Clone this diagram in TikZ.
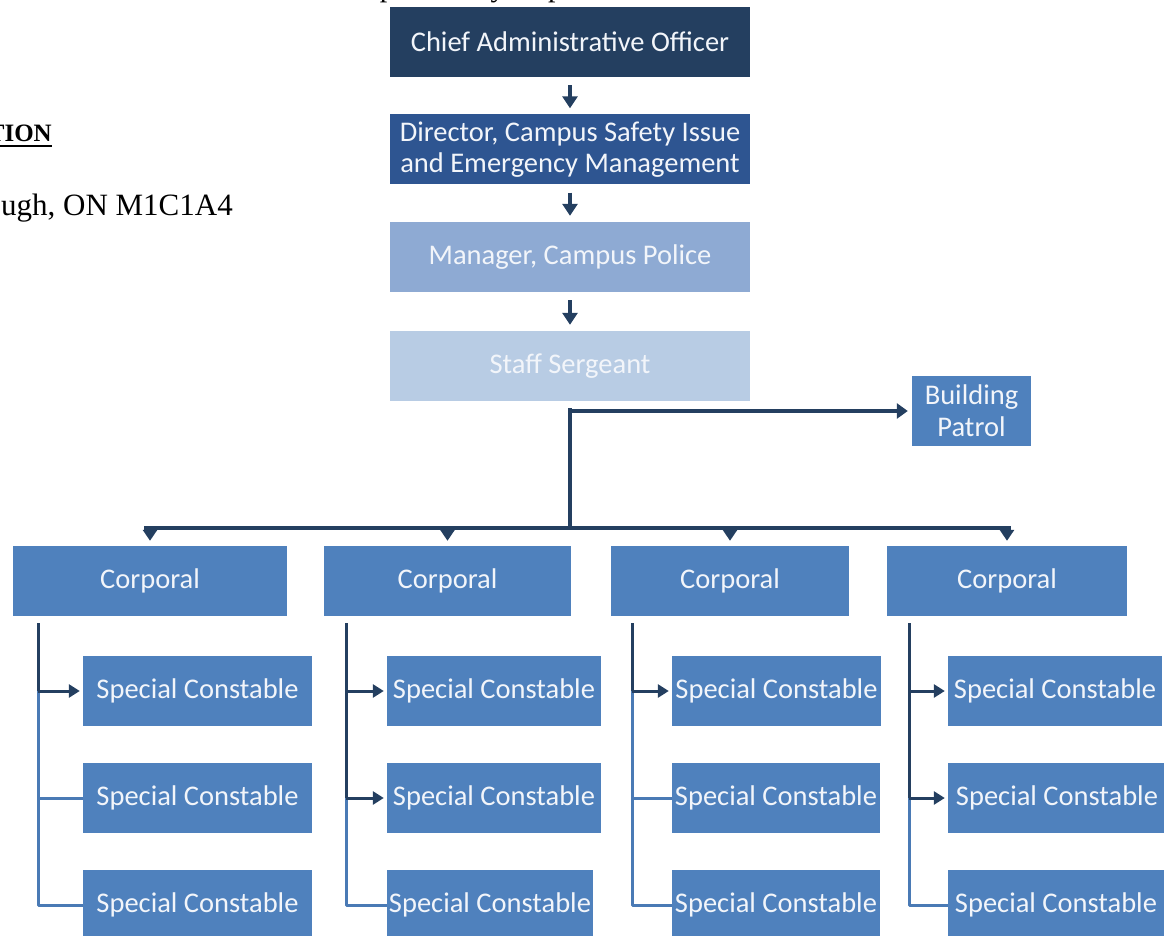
\documentclass[tikz,border=0pt]{standalone}
\usepackage{fontspec}
\setmainfont{Liberation Serif}
\newfontfamily\orgfont{Carlito}
\usetikzlibrary{arrows.meta}

\definecolor{navy}{HTML}{243F60}
\definecolor{director}{HTML}{2E5591}
\definecolor{manager}{HTML}{8EAAD3}
\definecolor{sergeant}{HTML}{B8CCE4}
\definecolor{unit}{HTML}{4F81BD}
\definecolor{paleline}{HTML}{4A7AB5}
\definecolor{boxtext}{HTML}{F2F5FA}

\begin{document}
\begin{tikzpicture}[
            x=1pt, y=-1pt,
            box/.style={rectangle, inner sep=0pt, align=center, text=boxtext,
                font=\orgfont\fontsize{28.5}{31}\selectfont},
            top box/.style={box, minimum width=360pt, minimum height=70pt},
            unit box/.style={box, fill=unit, minimum height=70pt},
            chain arrow/.style={line width=3.5pt, draw=navy,
                -{Triangle[length=12pt, width=15pt]}, shorten <=8pt, shorten >=6pt},
            trunk/.style={line width=4pt, draw=navy},
            drop/.style={line width=3pt, draw=navy,
                -{Triangle[length=11pt, width=14pt]}, shorten >=5pt},
            spine/.style={line width=3pt, draw=navy},
            branch/.style={line width=3pt, draw=navy,
                -{Triangle[length=11pt, width=13pt]}, shorten >=3pt},
            pale branch/.style={line width=3pt, draw=paleline, line join=round}
            ]

            \useasboundingbox (0,0) rectangle (1164,936);
            \clip (0,0) rectangle (1164,936);

            % page text cut by the frame
            \node[anchor=base west, inner sep=0pt, font=\fontsize{30}{34}\selectfont]
                (title) at (323,-3.5) {Campus Safety Department};
            \node[anchor=base east, inner sep=0pt, font=\bfseries\fontsize{25}{30}\selectfont]
                (heading) at (52,142) {TION};
            \draw[line width=2.5pt] ([yshift=-4pt]heading.base west) -- ([yshift=-4pt]heading.base east);
            \node[anchor=base east, inner sep=0pt, font=\fontsize{31}{35}\selectfont]
                (address) at (233,215) {ugh, ON M1C1A4};

            % chain of command
            \node[top box, fill=navy] (cao) at (570,42) {Chief Administrative Officer};
            \node[top box, fill=director] (director) at (570,149.5) {Director, Campus Safety Issue\\and Emergency Management};
            \node[top box, fill=manager] (manager) at (570,257) {Manager, Campus Police};
            \node[top box, fill=sergeant] (sergeant) at (570,366) {Staff Sergeant};
            \node[unit box, minimum width=119pt, font=\orgfont\fontsize{28.5}{32}\selectfont]
                (patrol) at (971.5,411) {Building\\Patrol};

            \draw[chain arrow] (cao) -- (director);
            \draw[chain arrow] (director) -- (manager);
            \draw[chain arrow] (manager) -- (sergeant);

            % corporals
            \node[unit box, minimum width=274pt] (corp1) at (150,581) {Corporal};
            \node[unit box, minimum width=247pt] (corp2) at (447.5,581) {Corporal};
            \node[unit box, minimum width=238pt] (corp3) at (730,581) {Corporal};
            \node[unit box, minimum width=240pt] (corp4) at (1007,581) {Corporal};

            \coordinate (split) at (570,411);
            \coordinate (bus) at (570,528);
            \coordinate (bus west) at (144,528);
            \coordinate (bus east) at (1011,528);

            \draw[trunk] ([yshift=-7pt]sergeant.south) -- (bus);
            \draw[trunk, -{Triangle[length=11pt, width=15pt]}, shorten >=4pt] (split) -- (patrol.west);
            \draw[trunk] (bus west) -- (bus east);
            \draw[drop] (corp1.north |- bus) -- (corp1.north);
            \draw[drop] (corp2.north |- bus) -- (corp2.north);
            \draw[drop] (corp3.north |- bus) -- (corp3.north);
            \draw[drop] (corp4.north |- bus) -- (corp4.north);

            % special constables
            \node[unit box, minimum width=229pt] (con11) at (197.5,691) {Special Constable};
            \node[unit box, minimum width=229pt] (con12) at (197.5,798) {Special Constable};
            \node[unit box, minimum width=229pt] (con13) at (197.5,905) {Special Constable};

            \node[unit box, minimum width=214pt] (con21) at (494,691) {Special Constable};
            \node[unit box, minimum width=214pt] (con22) at (494,798) {Special Constable};
            \node[unit box, minimum width=206pt] (con23) at (490,905) {Special Constable};

            \node[unit box, minimum width=209pt] (con31) at (776.5,691) {Special Constable};
            \node[unit box, minimum width=208pt] (con32) at (776,798) {Special Constable};
            \node[unit box, minimum width=208pt] (con33) at (776,905) {Special Constable};

            \node[unit box, minimum width=214pt] (con41) at (1055,691) {Special Constable};
            \node[unit box, minimum width=218pt] (con42) at (1057,798) {Special Constable};
            \node[unit box, minimum width=216pt] (con43) at (1056,905) {Special Constable};

            \coordinate (spine1) at (38,623);
            \coordinate (spine2) at (346,623);
            \coordinate (spine3) at (632,623);
            \coordinate (spine4) at (909,623);

            % first corporal
            \draw[pale branch] (spine1 |- con11) -- (spine1 |- con13) -- (con13.west);
            \draw[pale branch] (spine1 |- con12) -- (con12.west);
            \draw[spine] (spine1) -- (spine1 |- con11);
            \draw[branch] (spine1 |- con11) -- (con11.west);

            % second corporal
            \draw[pale branch] (spine2 |- con22) -- (spine2 |- con23) -- (con23.west);
            \draw[spine] (spine2) -- (spine2 |- con22);
            \draw[branch] (spine2 |- con21) -- (con21.west);
            \draw[branch] (spine2 |- con22) -- (con22.west);

            % third corporal
            \draw[pale branch] (spine3 |- con31) -- (spine3 |- con33) -- (con33.west);
            \draw[pale branch] (spine3 |- con32) -- (con32.west);
            \draw[spine] (spine3) -- (spine3 |- con31);
            \draw[branch] (spine3 |- con31) -- (con31.west);

            % fourth corporal
            \draw[pale branch] (spine4 |- con42) -- (spine4 |- con43) -- (con43.west);
            \draw[spine] (spine4) -- (spine4 |- con42);
            \draw[branch] (spine4 |- con41) -- (con41.west);
            \draw[branch] (spine4 |- con42) -- (con42.west);

        \end{tikzpicture}
\end{document}
